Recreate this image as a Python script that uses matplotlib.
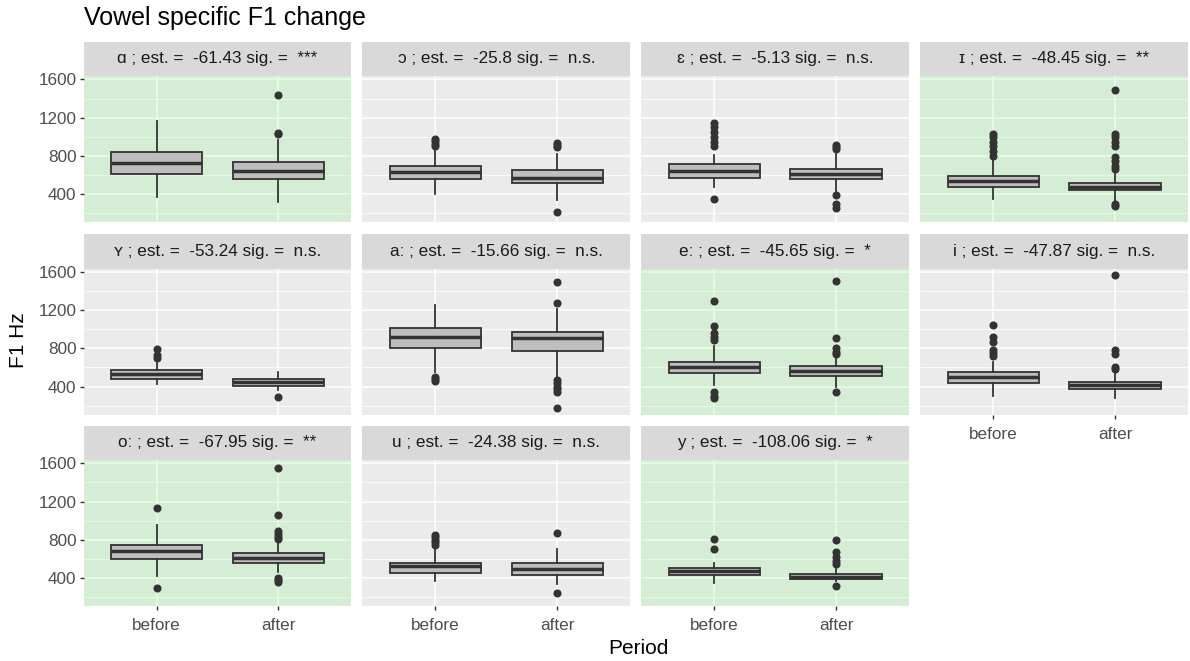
import matplotlib
matplotlib.use('Agg')
import matplotlib.pyplot as plt

plt.rcParams['font.family'] = ['Liberation Sans', 'DejaVu Sans']

vowels = ['ɑ', 'ɔ', 'ɛ', 'ɪ', 'ʏ', 'aː', 'eː', 'i', 'oː', 'u', 'y']
estimates = ['-61.43', '-25.8', '-5.13', '-48.45', '-53.24', '-15.66',
             '-45.65', '-47.87', '-67.95', '-24.38', '-108.06']
signif = ['***', 'n.s.', 'n.s.', '**', 'n.s.', 'n.s.', '*', 'n.s.', '**', 'n.s.', '*']
periods = ['before', 'after']

# q1, median, q3, lower whisker, upper whisker (Hz)
before_box = [
    [608, 730, 841, 371, 1161],
    [556, 632, 695, 407, 859],
    [575, 647, 711, 476, 807],
    [473, 535, 591, 355, 767],
    [480, 532, 574, 428, 643],
    [807, 922, 1016, 556, 1253],
    [539, 609, 657, 417, 824],
    [435, 504, 556, 302, 660],
    [604, 681, 747, 423, 956],
    [448, 521, 556, 371, 702],
    [434, 476, 509, 344, 561],
]
after_box = [
    [563, 643, 737, 319, 965],
    [518, 574, 653, 337, 824],
    [564, 616, 668, 424, 824],
    [442, 476, 518, 328, 630],
    [407, 452, 480, 365, 556],
    [776, 904, 971, 504, 1208],
    [511, 563, 616, 400, 719],
    [372, 417, 452, 278, 539],
    [556, 614, 660, 458, 754],
    [434, 493, 556, 337, 702],
    [389, 413, 441, 370, 493],
]
before_out = [
    [],
    [900, 930, 960, 980],
    [900, 950, 1000, 1050, 1100, 1140, 355],
    [800, 850, 900, 950, 1000, 1030],
    [700, 730, 790],
    [455, 480, 500],
    [890, 920, 960, 1030, 1297, 340, 300, 280],
    [720, 750, 780, 870, 920, 1040],
    [1130, 301],
    [750, 780, 800, 830, 850],
    [702, 813],
]
after_out = [
    [1026, 1040, 1436],
    [895, 920, 940, 215],
    [870, 890, 910, 389, 300, 260],
    [660, 700, 750, 790, 900, 950, 1000, 1030, 1492, 300, 275],
    [289],
    [1270, 1489, 470, 440, 400, 370, 340, 177],
    [740, 760, 800, 905, 1506, 347],
    [585, 608, 740, 780, 1565],
    [810, 830, 860, 890, 1057, 1548, 360, 380, 400],
    [866, 243],
    [550, 580, 620, 670, 799, 319],
]

W, H = 1190, 661
fig = plt.figure(figsize=(W / 100, H / 100), dpi=100)


def rect(x, y, w, h):
    return [x / W, 1 - (y + h) / H, w / W, h / H]


# shared y range, ggplot style 5% padding
allv = []
for i in range(len(vowels)):
    allv += before_box[i] + after_box[i] + before_out[i] + after_out[i]
lo, hi = min(allv), max(allv)
pad = 0.05 * (hi - lo)

col_x = [83.5 + c * (267.9 + 11) for c in range(4)]
row_y = [41.7, 234, 425.5]
strip_h = 34.5
panel_h = 146
pw = 267.9

for i, v in enumerate(vowels):
    r, c = i // 4, i % 4
    x0, y0 = col_x[c], row_y[r]

    sax = fig.add_axes(rect(x0, y0, pw, strip_h))
    sax.set_facecolor('#D9D9D9')
    sax.set_xticks([])
    sax.set_yticks([])
    for s in sax.spines.values():
        s.set_visible(False)
    sax.text(0.5, 0.5, f'{v} ; est. =  {estimates[i]} sig. =  {signif[i]}',
             ha='center', va='center', fontsize=12.3, color='#1A1A1A')

    ax = fig.add_axes(rect(x0, y0 + strip_h, pw, panel_h))
    if signif[i] != 'n.s.':
        ax.set_facecolor('#D4EDD4')
        gc = '#E6FFE6'
    else:
        ax.set_facecolor('#EBEBEB')
        gc = 'white'
    for s in ax.spines.values():
        s.set_visible(False)

    stats = []
    for box, out, lab in [(before_box[i], before_out[i], 'before'),
                          (after_box[i], after_out[i], 'after')]:
        stats.append(dict(q1=box[0], med=box[1], q3=box[2],
                          whislo=box[3], whishi=box[4], fliers=out, label=lab))
    ax.bxp(stats, positions=[1, 2], widths=0.75, patch_artist=True, showcaps=False,
           boxprops=dict(facecolor='#BEBEBE', edgecolor='#333333', linewidth=1.3),
           medianprops=dict(color='#333333', linewidth=2.5),
           whiskerprops=dict(color='#333333', linewidth=1.3),
           flierprops=dict(marker='o', markerfacecolor='#333333',
                           markeredgecolor='#333333', markersize=4.8))

    ax.set_xlim(0.4, 2.6)
    ax.set_ylim(lo - pad, hi + pad)
    ax.set_xticks([1, 2])
    ax.set_yticks([400, 800, 1200, 1600])
    ax.set_yticks([200, 600, 1000, 1400], minor=True)
    ax.set_axisbelow(True)
    ax.grid(True, which='major', color=gc, linewidth=1.1)
    ax.grid(True, which='minor', axis='y', color=gc, linewidth=0.55)
    ax.tick_params(which='minor', length=0)
    ax.tick_params(which='major', length=3, width=1, color='#333333',
                   labelcolor='#4D4D4D', labelsize=12.3, pad=2)
    ax.tick_params(axis='x', pad=6)

    bottom = (r == 2) or (r == 1 and c == 3)
    if bottom:
        ax.set_xticklabels(periods)
    else:
        ax.tick_params(axis='x', length=0, labelbottom=False)
    if c != 0:
        ax.tick_params(axis='y', length=0, labelleft=False)

fig.text(84 / W, 1 - 18 / H, 'Vowel specific F1 change', fontsize=18,
         ha='left', va='center')
fig.text(18 / W, 1 - 340 / H, 'F1 Hz', fontsize=15, rotation=90,
         ha='center', va='center')
fig.text(638 / W, 1 - 648 / H, 'Period', fontsize=15, ha='center', va='center')

fig.savefig('out.png', dpi=100)
